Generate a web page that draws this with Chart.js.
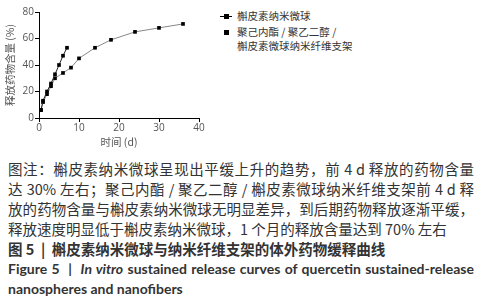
<!DOCTYPE html>
<html>
<head>
<meta charset="utf-8">
<script src="https://cdn.jsdelivr.net/npm/chart.js@4"></script>
<style>
  html, body { margin: 0; padding: 0; background: #fff; }
  body { width: 480px; height: 300px; position: relative; overflow: hidden; font-family: "Noto Sans CJK SC", sans-serif; color: #333; }
  #chartBox { position: absolute; left: 0; top: 0; width: 215px; height: 148px; }
  #legend { position: absolute; left: 220px; top: 9px; font-size: 10.5px; line-height: 14px; color: #333; }
  .item { position: relative; padding-left: 17px; }
  .mk { position: absolute; left: 0; top: 7px; width: 12px; height: 1px; background: #000; }
  .mk i { position: absolute; left: 4px; top: -2px; width: 5px; height: 5px; background: #000; }
  .mk.sq { background: transparent; }
  #caption { position: absolute; left: 8px; top: 159px; width: 466px; font-size: 14.5px; line-height: 20px; }
  .j { text-align: justify; text-align-last: justify; white-space: nowrap; }
  .b { font-weight: bold; }
  .en { font-family: Lato, "Open Sans", sans-serif; font-weight: bold; font-size: 14px; white-space: nowrap; }
</style>
</head>
<body>
<div id="chartBox"><canvas id="chart"></canvas></div>
<div id="legend">
  <div class="item"><span class="mk"><i></i></span>槲皮素纳米微球</div>
  <div class="item" style="margin-top:2px"><span class="mk sq"><i></i></span>聚己内酯 / 聚乙二醇 /<br>槲皮素微球纳米纤维支架</div>
</div>
<div id="caption">
  <div class="j">图注：槲皮素纳米微球呈现出平缓上升的趋势，前 4 d 释放的药物含量</div>
  <div class="j">达 30% 左右；聚己内酯 / 聚乙二醇 / 槲皮素微球纳米纤维支架前 4 d 释</div>
  <div class="j">放的药物含量与槲皮素纳米微球无明显差异，到后期药物释放逐渐平缓，</div>
  <div>释放速度明显低于槲皮素纳米微球，1 个月的释放含量达到 70% 左右</div>
  <div class="b">图 5 &nbsp;|&nbsp; 槲皮素纳米微球与纳米纤维支架的体外药物缓释曲线</div>
  <div class="en j">Figure 5 &nbsp;|&nbsp; <i>In vitro</i> sustained release curves of quercetin sustained-release</div>
  <div class="en">nanospheres and nanofibers</div>
</div>
<script>
// ---------- DATA ----------
const seriesNames = ["槲皮素纳米微球", "聚己内酯 / 聚乙二醇 / 槲皮素微球纳米纤维支架"];
const sphereDays = [0.5, 1, 2, 3, 4, 5, 6, 7];
const sphereRelease = [6, 13, 20, 26, 33, 40, 47, 53];
const fiberDays = [0.5, 1, 2, 3, 4, 6, 8, 10, 14, 18, 24, 30, 36];
const fiberRelease = [6, 12, 18, 24, 30, 34, 38, 45, 53, 59, 65, 68, 71];
const xTicks = [0, 10, 20, 30, 40];
const yTicks = [0, 20, 40, 60, 80];

function toPoints(xs, ys) { return xs.map((x, i) => ({ x, y: ys[i] })); }

const tickFont = { family: "'Open Sans', 'Liberation Sans', sans-serif", size: 10 };
const titleFont = { family: "'Noto Sans CJK SC', sans-serif", size: 10.5 };

new Chart(document.getElementById("chart"), {
  type: "scatter",
  data: {
    datasets: [
      { label: seriesNames[0], data: toPoints(sphereDays, sphereRelease), showLine: true,
        borderColor: "#222", borderWidth: 1, pointStyle: "rect", pointRadius: 2.6,
        pointBackgroundColor: "#000", pointBorderColor: "#000", pointBorderWidth: 0 },
      { label: seriesNames[1], data: toPoints(fiberDays, fiberRelease), showLine: true,
        borderColor: "#888", borderWidth: 1, pointStyle: "rect", pointRadius: 2.6,
        pointBackgroundColor: "#000", pointBorderColor: "#000", pointBorderWidth: 0 }
    ]
  },
  options: {
    responsive: true, maintainAspectRatio: false, animation: false,
    layout: { padding: { left: 4, right: 16, top: 12, bottom: 0 } },
    plugins: { legend: { display: false }, tooltip: { enabled: false } },
    scales: {
      x: {
        type: "linear", min: 0, max: 40,
        afterBuildTicks: s => { s.ticks = xTicks.map(v => ({ value: v })); },
        afterFit: s => { s.height = 30; },
        grid: { drawOnChartArea: false, drawTicks: true, tickLength: 4, color: "#000" },
        border: { color: "#000", width: 1 },
        ticks: { color: "#555", font: tickFont, padding: 0, maxRotation: 0 },
        title: { display: true, text: "时间 (d)", color: "#555", font: titleFont, padding: 0 }
      },
      y: {
        type: "linear", min: 0, max: 80,
        afterBuildTicks: s => { s.ticks = yTicks.map(v => ({ value: v })); },
        afterFit: s => { s.width = 35; },
        grid: { drawOnChartArea: false, drawTicks: true, tickLength: 4, color: "#000" },
        border: { color: "#000", width: 1 },
        ticks: { color: "#555", font: tickFont, padding: 1 },
        title: { display: true, text: "释放药物含量 (%)", color: "#555", font: titleFont, padding: 0 }
      }
    }
  }
});
</script>
</body>
</html>
